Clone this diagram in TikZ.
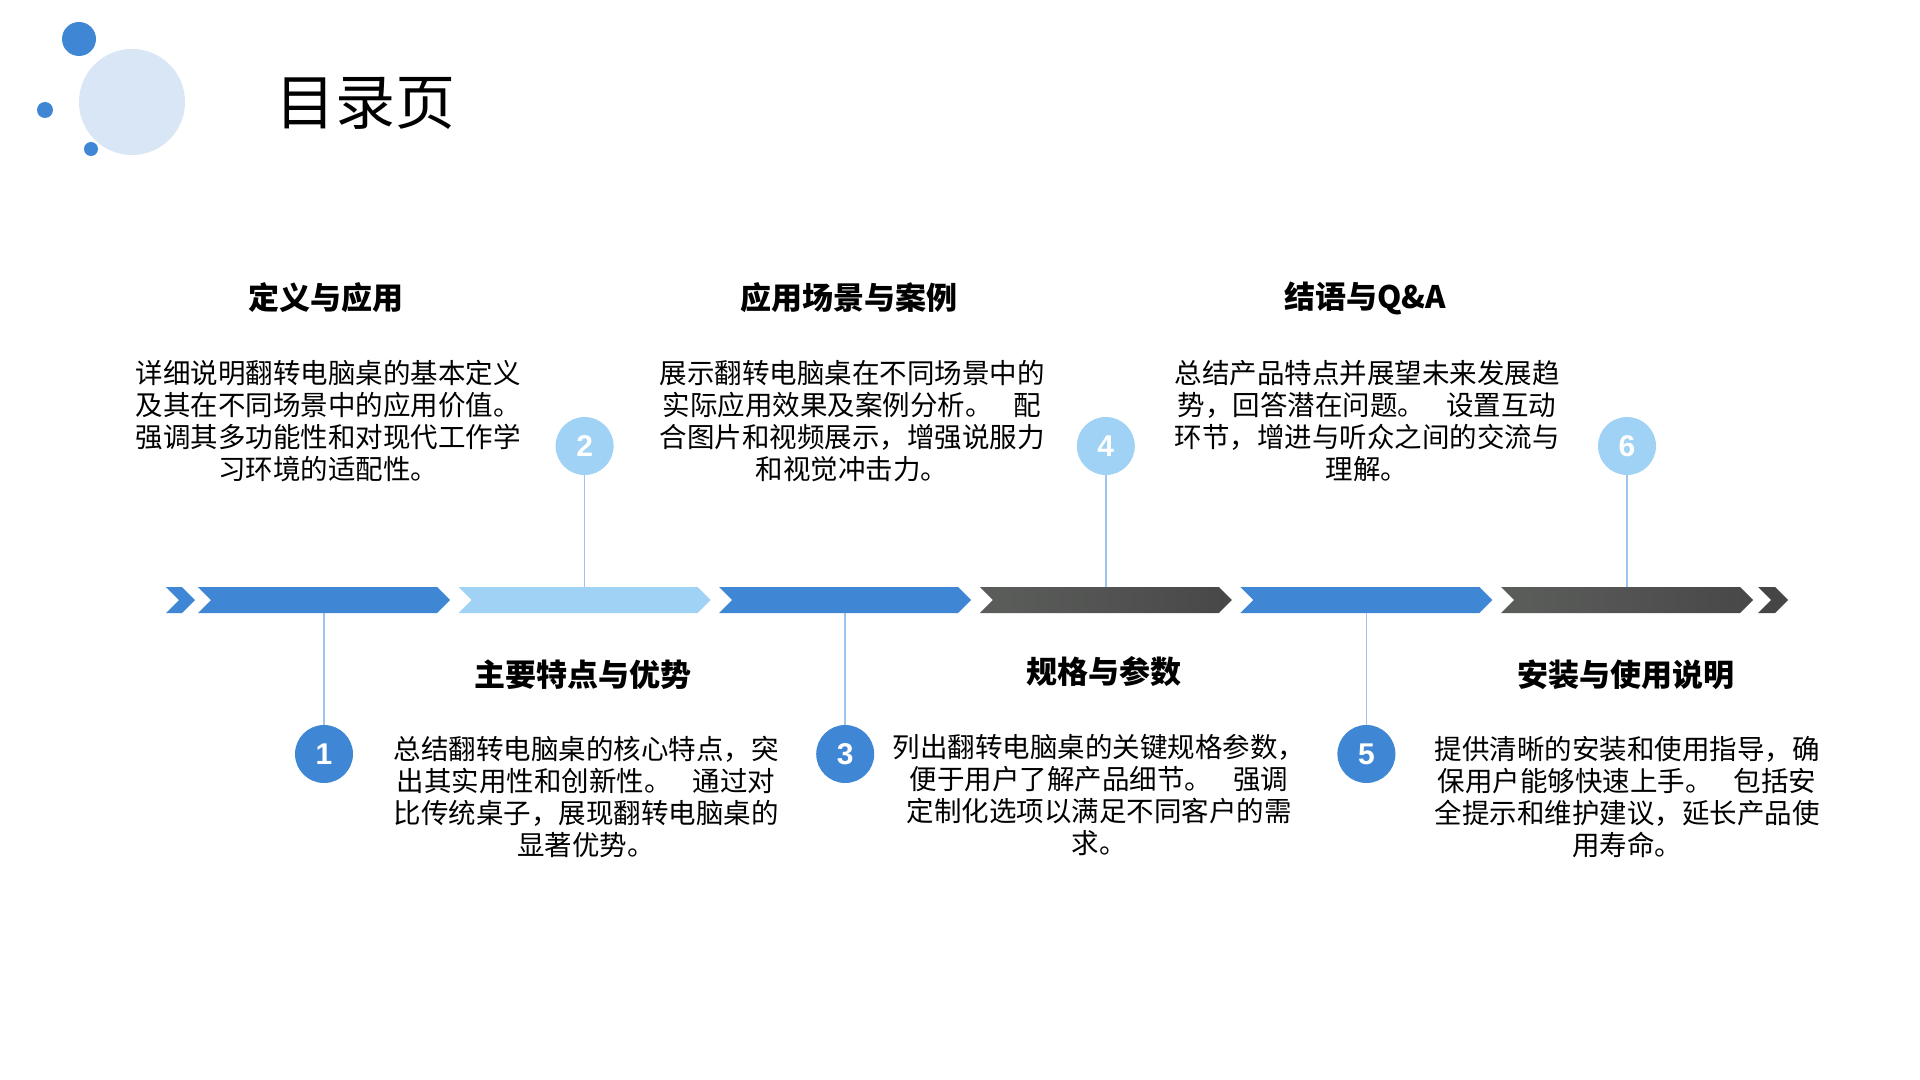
\documentclass[tikz,border=0pt]{standalone}
\usepackage{fontspec}
\setmainfont{Liberation Sans}
\newfontfamily\cjk{Noto Sans CJK SC}
\usepackage{xcolor}
\usetikzlibrary{calc}

\definecolor{barblue}{HTML}{3F87D4}
\definecolor{barlight}{HTML}{A0D2F6}
\definecolor{bardark}{HTML}{5A5C5A}
\definecolor{bardarker}{HTML}{464646}
\definecolor{tipblue}{HTML}{9CC3E2}
\definecolor{dotpale}{HTML}{D9E6F6}
\definecolor{linkblue}{HTML}{9CC4EE}
\pgfdeclarehorizontalshading{darkbar}{100bp}{color(0bp)=(bardark); color(30bp)=(bardark); color(78bp)=(bardarker); color(88bp)=(bardarker); color(100bp)=(tipblue)}

% chevron band: left x, length to the tip
\newcommand{\chevron}[2]{(#1,587) -- ++(#2-13,0) -- ++(13,13) -- ++(-13,13) -- ++(-#2+13,0) -- ++(13,-13) -- cycle}
% gap after a full stop
\newcommand{\gap}{\hspace{0.75em}}

\begin{document}
\begin{tikzpicture}[x=0.5pt,y=-0.5pt,
    head/.style={font=\cjk\bfseries\fontsize{15.5}{18}\selectfont, inner sep=0pt},
    body/.style={font=\cjk\fontsize{13.75}{16}\selectfont, align=center, inner sep=0pt},
    num/.style={circle, minimum size=29pt, inner sep=0pt, text=white, font=\bfseries\fontsize{15}{15}\selectfont},
    link/.style={linkblue, line width=0.8pt}]
  \useasboundingbox[fill=white] (0,0) rectangle (1920,1080);
  % corner dots and title
  \fill[dotpale] (132,102) circle [radius=53];
  \fill[barblue] (79,39) circle [radius=17];
  \fill[barblue] (45,110) circle [radius=8];
  \fill[barblue] (91,149) circle [radius=7];
  \node[font=\cjk\fontsize{30}{30}\selectfont] (title) at (365,103) {目录页};
  % band of chevrons
  \fill[barblue] \chevron{166}{29};
  \foreach \i/\c in {1/barblue, 2/barlight, 3/barblue, 5/barblue} {
    \pgfmathsetmacro\bx{198+260.6*(\i-1)}
    \fill[\c] \chevron{\bx}{252};
  }
  \foreach \i in {4,6} {
    \pgfmathsetmacro\bx{198+260.6*(\i-1)}
    \shade[shading=darkbar] \chevron{\bx}{252};
  }
  \fill[bardarker] \chevron{1758}{30};
  % numbered circles
  \foreach \i/\y/\e/\c in {1/754/613/barblue, 2/446/587/barlight, 3/754/613/barblue,
                           4/446/587/barlight, 5/754/613/barblue, 6/446/587/barlight} {
    \pgfmathsetmacro\cx{324+260.6*(\i-1)}
    \coordinate (b\i) at (\cx,\e);
    \node[num, fill=\c] (n\i) at (\cx,\y) {\i};
    \draw[link] (n\i) -- (b\i);
  }
  % texts above
  \node[head] (h1) at (326,298) {定义与应用};
  \node[body] (t1) at (328,421) {详细说明翻转电脑桌的基本定义\\及其在不同场景中的应用价值。\\强调其多功能性和对现代工作学\\习环境的适配性。};
  \node[head] (h3) at (849,298) {应用场景与案例};
  \node[body] (t3) at (852,421) {展示翻转电脑桌在不同场景中的\\实际应用效果及案例分析。\gap 配\\合图片和视频展示，增强说服力\\和视觉冲击力。};
  \node[head] (h5) at (1365,298) {结语与Q\&A};
  \node[body] (t5) at (1367,421) {总结产品特点并展望未来发展趋\\势，回答潜在问题。\gap 设置互动\\环节，增进与听众之间的交流与\\理解。};
  % texts below
  \node[head] (h2) at (583,675) {主要特点与优势};
  \node[body] (t2) at (586,797) {总结翻转电脑桌的核心特点，突\\出其实用性和创新性。\gap 通过对\\比传统桌子，展现翻转电脑桌的\\显著优势。};
  \node[head] (h4) at (1104,672) {规格与参数};
  \node[body] (t4) at (1099,795) {列出翻转电脑桌的关键规格参数，\\便于用户了解产品细节。\gap 强调\\定制化选项以满足不同客户的需\\求。};
  \node[head] (h6) at (1626,675) {安装与使用说明};
  \node[body] (t6) at (1627,797) {提供清晰的安装和使用指导，确\\保用户能够快速上手。\gap 包括安\\全提示和维护建议，延长产品使\\用寿命。};
\end{tikzpicture}
\end{document}
